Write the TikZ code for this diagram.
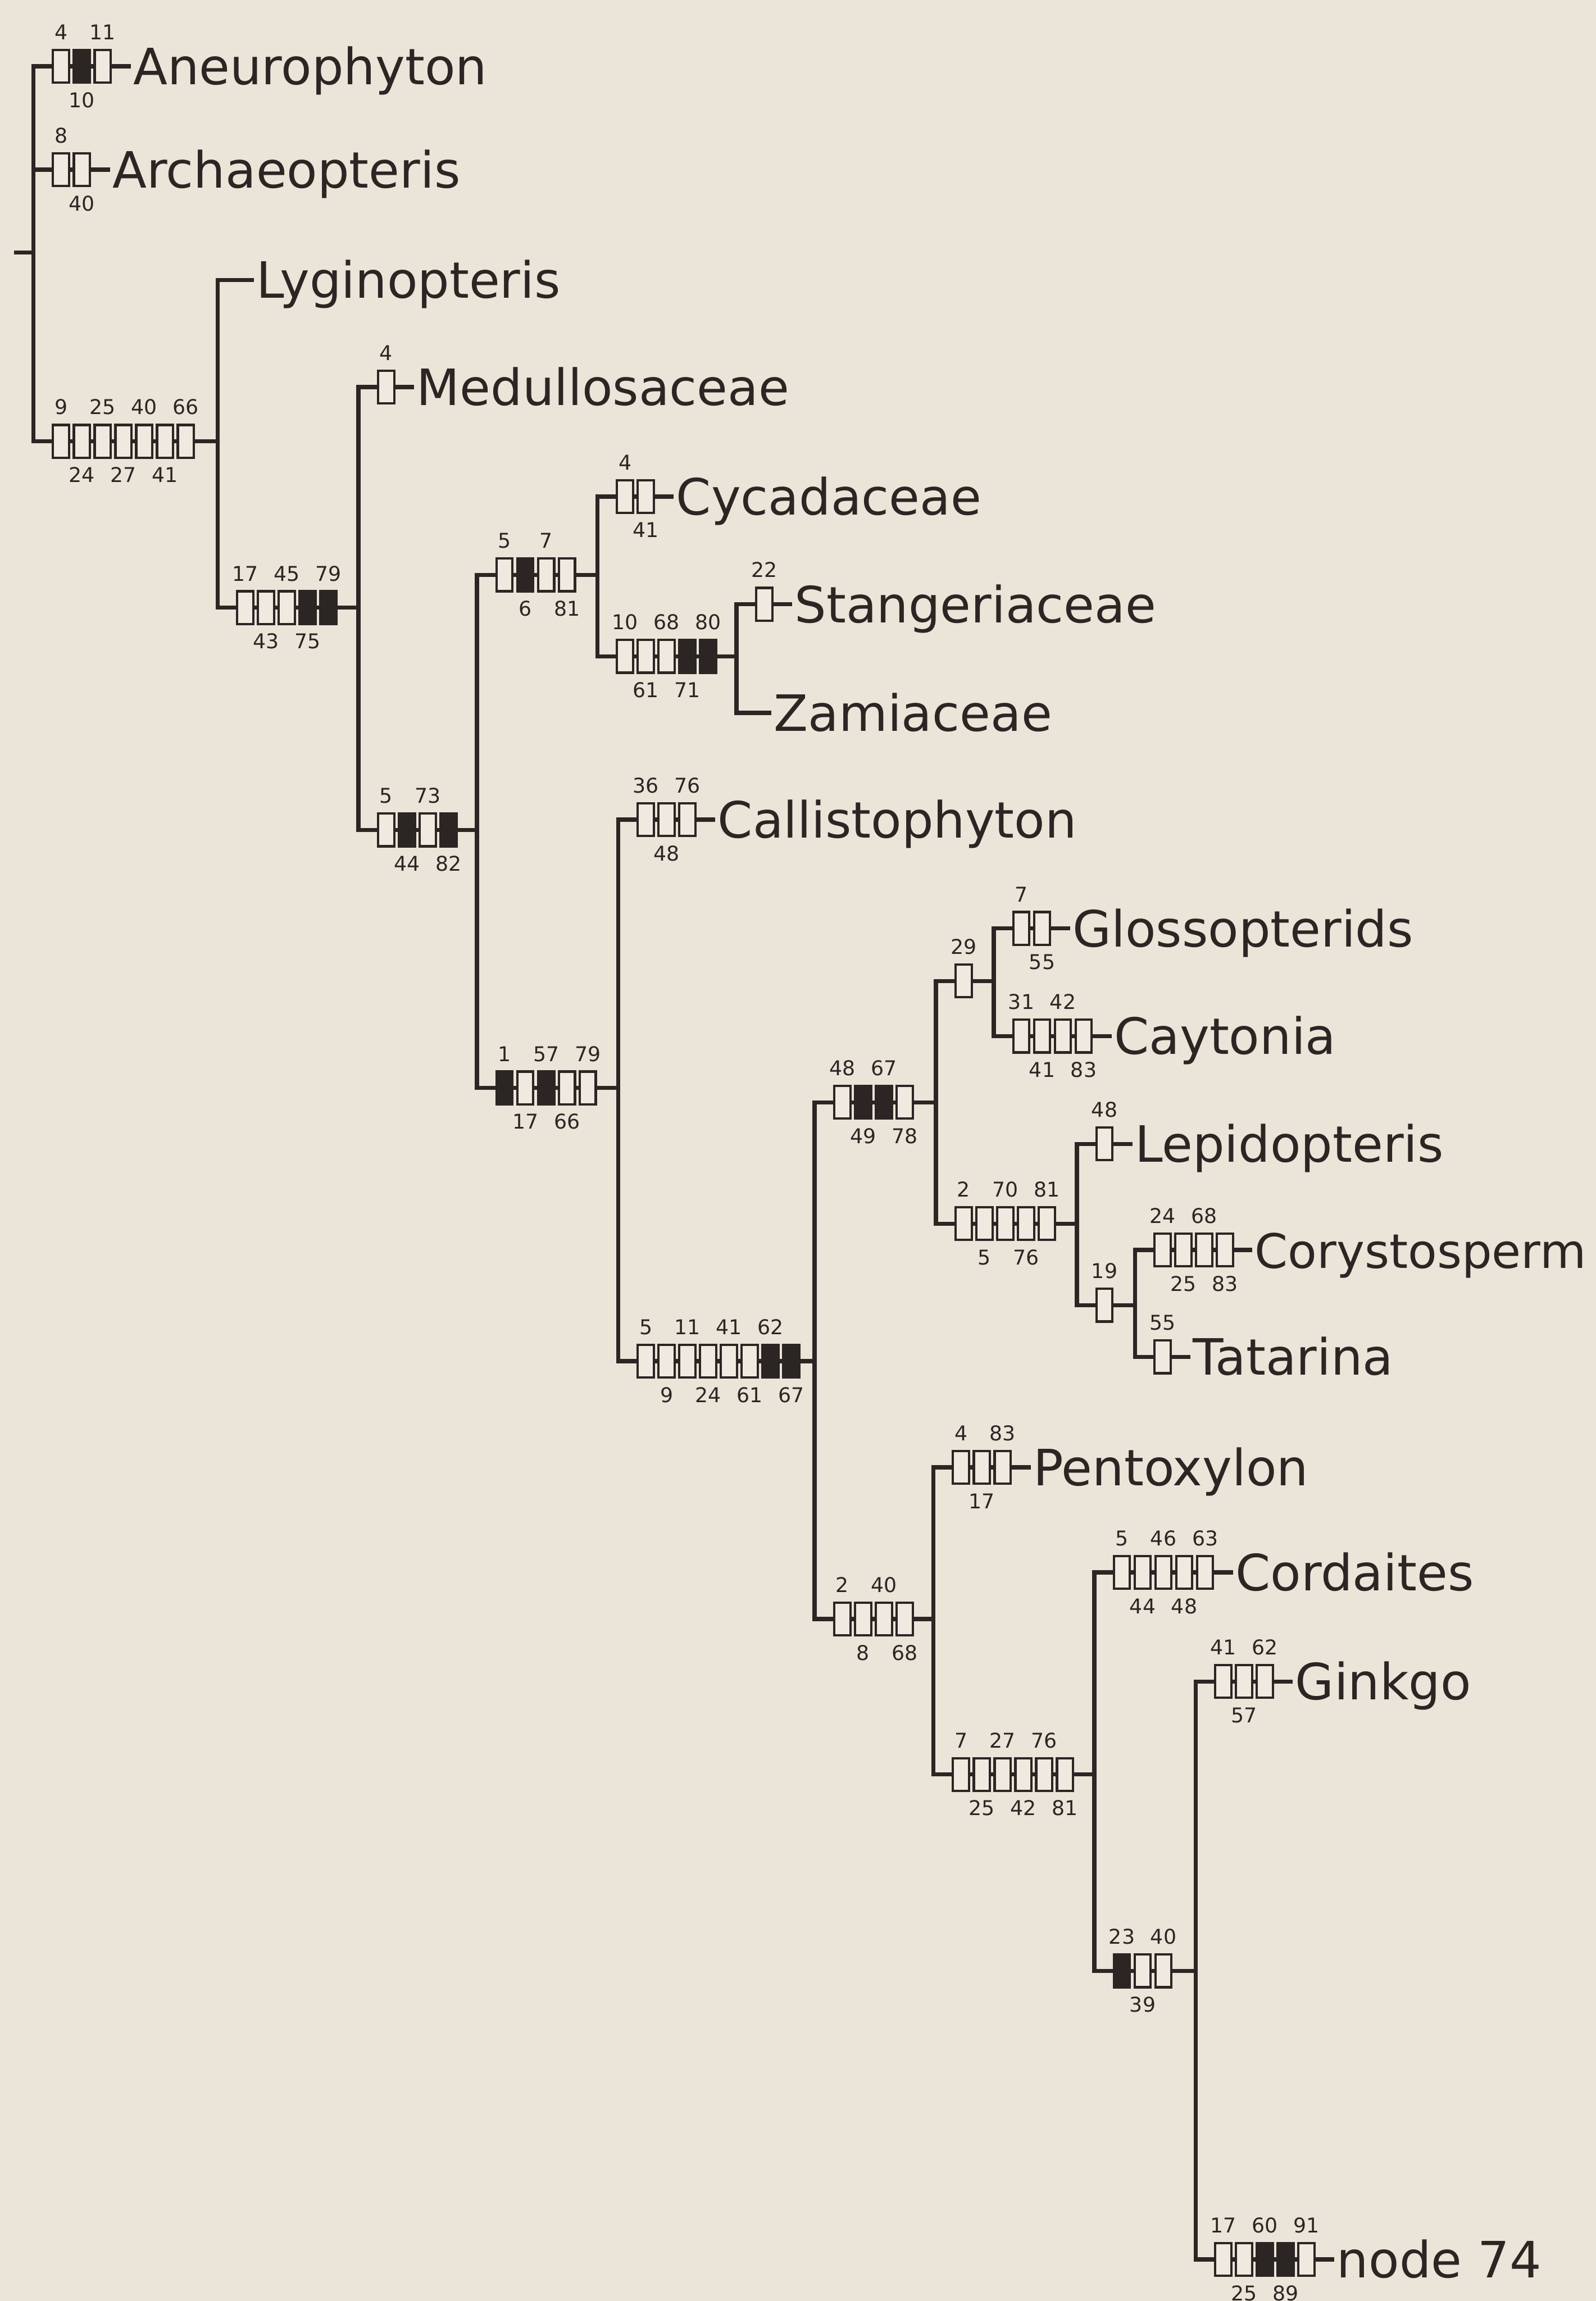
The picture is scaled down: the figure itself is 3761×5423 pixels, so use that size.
\documentclass[tikz,border=0pt]{standalone}
\usepackage{fontspec}
\setmainfont{DejaVu Sans}
\definecolor{paper}{HTML}{EBE4D8}
\definecolor{ink}{HTML}{2B2624}
\definecolor{W}{HTML}{EFE9DF}
\definecolor{B}{HTML}{2B2624}
\newcommand\cboxes[5]{%
  \foreach \f [count=\i] in {#4} {\node[cbox,fill=\f] (#1-\i) at ({#2+65+(\i-1)*49},#3) {};}%
  \foreach \t [count=\i] in {#5} {\node[chnum] (#1-t\i) at ({#2+65+(2*\i-2)*49},{#3-80}) {\t};}%
}
\newcommand\cbot[4]{%
  \foreach \t [count=\i] in {#4} {\node[chnum] (#1-b\i) at ({#2+65+(2*\i-1)*49},{#3+80}) {\t};}%
}
\begin{document}
\begin{tikzpicture}[x=0.1pt,y=-0.1pt,
  branch/.style={draw=ink,line width=1pt},
  cbox/.style={draw=ink,line width=0.55pt,minimum width=3.8pt,minimum height=7.7pt,inner sep=0pt,outer sep=0pt},
  chnum/.style={inner sep=0pt,text height=3.4pt,text depth=0pt,anchor=center,text=ink,font=\fontsize{4.8pt}{5.6pt}\selectfont},
  taxon/.style={anchor=west,inner xsep=0.4pt,inner ysep=0pt,text height=8.6pt,text depth=0pt,text=ink,font=\fontsize{11.8pt}{14pt}\selectfont}]
\fill[paper] (0,0) rectangle (3761,5423);
\useasboundingbox (0,0) rectangle (3761,5423);
% internal nodes
\coordinate (R0) at (33,595);
\coordinate (R) at (79,595);
\coordinate (N1) at (513,1040);
\coordinate (N2) at (845,1432);
\coordinate (N3) at (1124,1956);
\coordinate (N4) at (1408,1355);
\coordinate (N5) at (1736,1547);
\coordinate (N6) at (1457,2564);
\coordinate (N7) at (1920,3208);
\coordinate (N8) at (2206,2598);
\coordinate (N9) at (2342,2312);
\coordinate (N10) at (2538,2884);
\coordinate (N11) at (2675,3076);
\coordinate (N12) at (2200,3816);
\coordinate (N13) at (2579,4182);
\coordinate (N14) at (2818,4645);
% taxa
\node[taxon] (Aneu) at ({79+82+3*49},156) {Aneurophyton};
\node[taxon] (Arch) at ({79+82+2*49},400) {Archaeopteris};
\node[taxon] (Lyg) at ({513+86},660) {Lyginopteris};
\node[taxon] (Med) at ({845+82+1*49},912) {Medullosaceae};
\node[taxon] (Cyc) at ({1408+82+2*49},1170) {Cycadaceae};
\node[taxon] (Stan) at ({1736+82+1*49},1424) {Stangeriaceae};
\node[taxon] (Zam) at ({1736+82},1680) {Zamiaceae};
\node[taxon] (Call) at ({1457+82+3*49},1932) {Callistophyton};
\node[taxon] (Glos) at ({2342+82+2*49},2188) {Glossopterids};
\node[taxon] (Cayt) at ({2342+82+4*49},2442) {Caytonia};
\node[taxon] (Lep) at ({2538+82+1*49},2696) {Lepidopteris};
\node[taxon,font=\fontsize{11.2pt}{14pt}\selectfont] (Cory) at ({2675+80+4*49},2946) {Corystosperm};
\node[taxon] (Tat) at ({2675+82+1*49},3198) {Tatarina};
\node[taxon] (Pent) at ({2200+82+3*49},3458) {Pentoxylon};
\node[taxon] (Cord) at ({2579+82+5*49},3706) {Cordaites};
\node[taxon] (Gink) at ({2818+82+3*49},3963) {Ginkgo};
\node[taxon] (N74) at ({2818+82+5*49},5325) {node 74};
% connectors
\draw[branch] (R0) -- (R);
\draw[branch] (R) |- (Aneu.west);
\draw[branch] (R) |- (Arch.west);
\draw[branch] (R) |- (N1);
\draw[branch] (N1) |- (Lyg.west);
\draw[branch] (N1) |- (N2);
\draw[branch] (N2) |- (Med.west);
\draw[branch] (N2) |- (N3);
\draw[branch] (N3) |- (N4);
\draw[branch] (N3) |- (N6);
\draw[branch] (N4) |- (Cyc.west);
\draw[branch] (N4) |- (N5);
\draw[branch] (N5) |- (Stan.west);
\draw[branch] (N5) |- (Zam.west);
\draw[branch] (N6) |- (Call.west);
\draw[branch] (N6) |- (N7);
\draw[branch] (N7) |- (N8);
\draw[branch] (N7) |- (N12);
\draw[branch] (N8) |- (N9);
\draw[branch] (N8) |- (N10);
\draw[branch] (N9) |- (Glos.west);
\draw[branch] (N9) |- (Cayt.west);
\draw[branch] (N10) |- (Lep.west);
\draw[branch] (N10) |- (N11);
\draw[branch] (N11) |- (Cory.west);
\draw[branch] (N11) |- (Tat.west);
\draw[branch] (N12) |- (Pent.west);
\draw[branch] (N12) |- (N13);
\draw[branch] (N13) |- (Cord.west);
\draw[branch] (N13) |- (N14);
\draw[branch] (N14) |- (Gink.west);
\draw[branch] (N14) |- (N74.west);
% character boxes
\cboxes{aneu}{79}{156}{W,B,W}{4,11} \cbot{aneu}{79}{156}{10}
\cboxes{arch}{79}{400}{W,W}{8} \cbot{arch}{79}{400}{40}
\cboxes{n1}{79}{1040}{W,W,W,W,W,W,W}{9,25,40,66} \cbot{n1}{79}{1040}{24,27,41}
\cboxes{n2}{513}{1432}{W,W,W,B,B}{17,45,79} \cbot{n2}{513}{1432}{43,75}
\cboxes{med}{845}{912}{W}{4}
\cboxes{n3}{845}{1956}{W,B,W,B}{5,73} \cbot{n3}{845}{1956}{44,82}
\cboxes{n4}{1124}{1355}{W,B,W,W}{5,7} \cbot{n4}{1124}{1355}{6,81}
\cboxes{cyc}{1408}{1170}{W,W}{4} \cbot{cyc}{1408}{1170}{41}
\cboxes{n5}{1408}{1547}{W,W,W,B,B}{10,68,80} \cbot{n5}{1408}{1547}{61,71}
\cboxes{stan}{1736}{1424}{W}{22}
\cboxes{n6}{1124}{2564}{B,W,B,W,W}{1,57,79} \cbot{n6}{1124}{2564}{17,66}
\cboxes{call}{1457}{1932}{W,W,W}{36,76} \cbot{call}{1457}{1932}{48}
\cboxes{n7}{1457}{3208}{W,W,W,W,W,W,B,B}{5,11,41,62} \cbot{n7}{1457}{3208}{9,24,61,67}
\cboxes{n8}{1920}{2598}{W,B,B,W}{48,67} \cbot{n8}{1920}{2598}{49,78}
\cboxes{n9}{2206}{2312}{W}{29}
\cboxes{glos}{2342}{2188}{W,W}{7} \cbot{glos}{2342}{2188}{55}
\cboxes{cayt}{2342}{2442}{W,W,W,W}{31,42} \cbot{cayt}{2342}{2442}{41,83}
\cboxes{n10}{2206}{2884}{W,W,W,W,W}{2,70,81} \cbot{n10}{2206}{2884}{5,76}
\cboxes{lep}{2538}{2696}{W}{48}
\cboxes{n11}{2538}{3076}{W}{19}
\cboxes{cory}{2675}{2946}{W,W,W,W}{24,68} \cbot{cory}{2675}{2946}{25,83}
\cboxes{tat}{2675}{3198}{W}{55}
\cboxes{n12}{1920}{3816}{W,W,W,W}{2,40} \cbot{n12}{1920}{3816}{8,68}
\cboxes{pent}{2200}{3458}{W,W,W}{4,83} \cbot{pent}{2200}{3458}{17}
\cboxes{n13}{2200}{4182}{W,W,W,W,W,W}{7,27,76} \cbot{n13}{2200}{4182}{25,42,81}
\cboxes{cord}{2579}{3706}{W,W,W,W,W}{5,46,63} \cbot{cord}{2579}{3706}{44,48}
\cboxes{n14}{2579}{4645}{B,W,W}{23,40} \cbot{n14}{2579}{4645}{39}
\cboxes{gink}{2818}{3963}{W,W,W}{41,62} \cbot{gink}{2818}{3963}{57}
\cboxes{n74}{2818}{5325}{W,W,B,B,W}{17,60,91} \cbot{n74}{2818}{5325}{25,89}
\end{tikzpicture}
\end{document}
